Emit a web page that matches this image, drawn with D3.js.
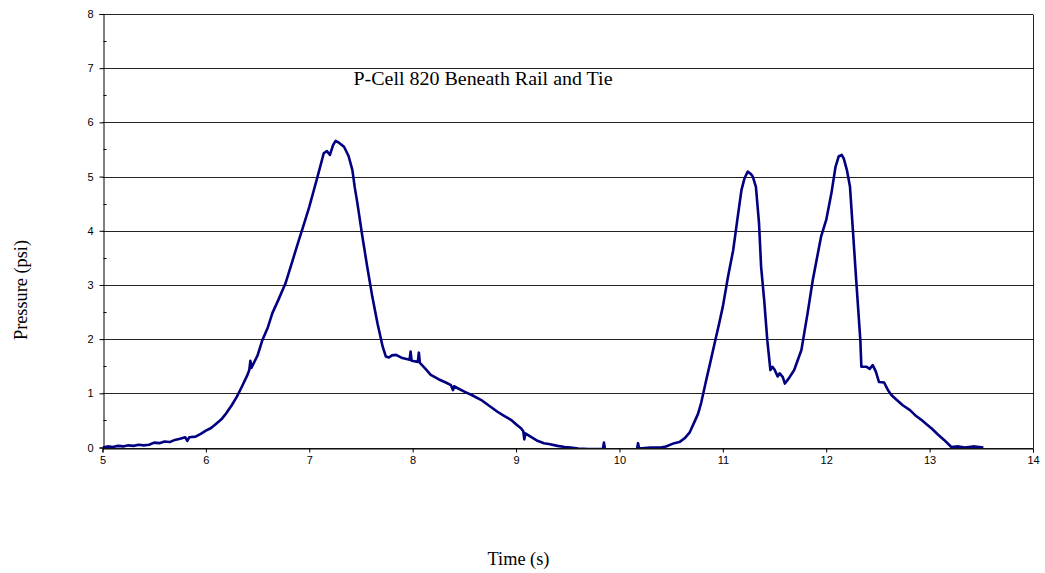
<!DOCTYPE html>
<html>
<head>
<meta charset="utf-8">
<script src="https://cdn.jsdelivr.net/npm/d3@7"></script>
<style>
  html, body { margin: 0; padding: 0; background: #fff; }
  svg { display: block; }
  .tick-label { font-family: Arial, "Liberation Sans", sans-serif; font-size: 11px; fill: #000; }
  .serif { font-family: "Times New Roman", "Liberation Serif", serif; fill: #000; }
</style>
</head>
<body>
<svg id="chart" width="1045" height="573"></svg>
<script>
/* P-Cell 820 pressure trace, redrawn from the reference picture. */

const timeS = [
  5.00, 5.05, 5.10, 5.15, 5.20, 5.25, 5.30, 5.35, 5.40, 5.45, 5.50, 5.55, 5.60, 5.65, 5.70, 5.75,
  5.80, 5.82, 5.84, 5.90, 5.95, 6.00, 6.05, 6.10, 6.15, 6.20, 6.25, 6.30, 6.35, 6.40, 6.42, 6.43,
  6.44, 6.50, 6.546, 6.60, 6.643, 6.70, 6.77, 6.83, 6.90, 6.95, 7.00, 7.04, 7.08, 7.14, 7.17, 7.20,
  7.23, 7.255, 7.29, 7.336, 7.38, 7.417, 7.44, 7.466, 7.514, 7.56, 7.61, 7.66, 7.71, 7.74, 7.77, 7.80,
  7.84, 7.90, 7.97, 7.98, 7.99, 8.05, 8.06, 8.07, 8.12, 8.175, 8.25, 8.32, 8.37, 8.39, 8.40, 8.45,
  8.50, 8.58, 8.66, 8.74, 8.82, 8.88, 8.95, 9.00, 9.05, 9.07, 9.08, 9.09, 9.14, 9.20, 9.27, 9.33,
  9.40, 9.47, 9.53, 9.60, 9.70, 9.84, 9.85, 9.86, 10.00, 10.17, 10.18, 10.19, 10.30, 10.40, 10.45, 10.53,
  10.58, 10.63, 10.68, 10.72, 10.76, 10.79, 10.84, 10.88, 10.92, 10.96, 11.00, 11.05, 11.10, 11.14, 11.18, 11.21,
  11.24, 11.27, 11.29, 11.32, 11.35, 11.37, 11.40, 11.43, 11.46, 11.48, 11.50, 11.53, 11.55, 11.58, 11.60, 11.64,
  11.69, 11.76, 11.82, 11.87, 11.95, 12.00, 12.05, 12.09, 12.12, 12.15, 12.17, 12.20, 12.23, 12.26, 12.29, 12.33,
  12.34, 12.39, 12.42, 12.45, 12.48, 12.51, 12.56, 12.60, 12.63, 12.68, 12.74, 12.81, 12.87, 12.92, 12.97, 13.02,
  13.08, 13.14, 13.21, 13.28, 13.34, 13.42, 13.52
];

const pressurePsi = [
  0.00, 0.02, 0.01, 0.03, 0.02, 0.04, 0.03, 0.05, 0.04, 0.05, 0.09, 0.08, 0.11, 0.10, 0.14, 0.16,
  0.19, 0.12, 0.19, 0.20, 0.25, 0.31, 0.36, 0.44, 0.52, 0.64, 0.78, 0.94, 1.13, 1.33, 1.43, 1.60,
  1.47, 1.70, 1.98, 2.22, 2.48, 2.72, 3.03, 3.40, 3.83, 4.13, 4.44, 4.72, 5.00, 5.43, 5.47, 5.40,
  5.58, 5.66, 5.62, 5.55, 5.38, 5.12, 4.80, 4.50, 3.89, 3.34, 2.78, 2.29, 1.86, 1.68, 1.66, 1.70,
  1.71, 1.65, 1.62, 1.77, 1.60, 1.58, 1.75, 1.56, 1.46, 1.34, 1.26, 1.20, 1.15, 1.06, 1.13, 1.08,
  1.03, 0.96, 0.88, 0.77, 0.66, 0.59, 0.51, 0.43, 0.35, 0.30, 0.15, 0.26, 0.20, 0.13, 0.08, 0.06,
  0.03, 0.01, 0.00, -0.02, -0.03, -0.03, 0.09, -0.03, -0.05, -0.03, 0.08, -0.02, 0.00, 0.00, 0.02, 0.08,
  0.10, 0.17, 0.28, 0.45, 0.62, 0.82, 1.25, 1.58, 1.92, 2.25, 2.60, 3.15, 3.64, 4.20, 4.75, 4.97,
  5.09, 5.05, 5.00, 4.81, 4.14, 3.34, 2.72, 1.98, 1.43, 1.49, 1.44, 1.31, 1.37, 1.30, 1.18, 1.28,
  1.43, 1.80, 2.48, 3.09, 3.89, 4.20, 4.69, 5.18, 5.37, 5.40, 5.33, 5.12, 4.81, 3.95, 3.09, 1.98,
  1.49, 1.49, 1.45, 1.52, 1.40, 1.21, 1.20, 1.05, 0.97, 0.88, 0.78, 0.69, 0.58, 0.51, 0.43, 0.35,
  0.24, 0.14, 0.01, 0.02, 0.00, 0.02, 0.00
];

const xTicks = [5, 6, 7, 8, 9, 10, 11, 12, 13, 14];
const yTicks = [0, 1, 2, 3, 4, 5, 6, 7, 8];
const yMinorTicks = [0.5, 1.5, 2.5, 3.5, 4.5, 5.5, 6.5, 7.5];

const chartTitle = "P-Cell 820 Beneath Rail and Tie";
const xTitle = "Time (s)";
const yTitle = "Pressure (psi)";

const svg = d3.select("#chart");
const plot = { left: 102.5, right: 1033, top: 14, bottom: 447.5 };

const x = d3.scaleLinear().domain([5, 14]).range([plot.left, plot.right]);
const y = d3.scaleLinear().domain([0, 8]).range([plot.bottom, plot.top]);

// horizontal gridlines
svg.append("g")
  .selectAll("line")
  .data(yTicks)
  .join("line")
  .attr("x1", plot.left)
  .attr("x2", plot.right)
  .attr("y1", (d) => Math.round(y(d)) + 0.5)
  .attr("y2", (d) => Math.round(y(d)) + 0.5)
  .attr("stroke", "#222")
  .attr("stroke-width", 1);

// right border
svg.append("line")
  .attr("x1", Math.round(plot.right) + 0.5)
  .attr("x2", Math.round(plot.right) + 0.5)
  .attr("y1", Math.round(plot.top) + 0.5)
  .attr("y2", Math.round(plot.bottom) + 0.5)
  .attr("stroke", "#222");

// y axis
const yAxis = svg.append("g")
  .attr("transform", `translate(${Math.round(plot.left) + 0.5},0)`)
  .call(d3.axisLeft(y).tickValues(yTicks).tickSize(4).tickPadding(6).tickFormat(d3.format("d")));
yAxis.select(".domain").attr("stroke", "#000");
yAxis.selectAll(".tick line").attr("stroke", "#000");
yAxis.selectAll(".tick text").attr("class", "tick-label").attr("font-size", null).attr("font-family", null);

// minor ticks on y axis (inside)
svg.append("g")
  .selectAll("line")
  .data(yMinorTicks)
  .join("line")
  .attr("x1", Math.round(plot.left) + 0.5)
  .attr("x2", Math.round(plot.left) + 3.5)
  .attr("y1", (d) => Math.round(y(d)) + 0.5)
  .attr("y2", (d) => Math.round(y(d)) + 0.5)
  .attr("stroke", "#000");

// x axis
const xAxis = svg.append("g")
  .attr("transform", `translate(0,${Math.round(plot.bottom) + 0.5})`)
  .call(d3.axisBottom(x).tickValues(xTicks).tickSize(4).tickPadding(4).tickFormat(d3.format("d")));
xAxis.select(".domain").attr("stroke", "#000");
xAxis.selectAll(".tick line").attr("stroke", "#000");
xAxis.selectAll(".tick text").attr("class", "tick-label").attr("font-size", null).attr("font-family", null);

// clip the trace to the plot area
svg.append("clipPath")
  .attr("id", "plot-clip")
  .append("rect")
  .attr("x", plot.left)
  .attr("y", plot.top)
  .attr("width", plot.right - plot.left)
  .attr("height", plot.bottom - plot.top + 0.5);

const points = timeS.map((t, i) => [t, pressurePsi[i]]);
const line = d3.line()
  .x((d) => x(d[0]))
  .y((d) => y(d[1]));

svg.append("path")
  .datum(points)
  .attr("clip-path", "url(#plot-clip)")
  .attr("fill", "none")
  .attr("stroke", "#000080")
  .attr("stroke-width", 2.6)
  .attr("stroke-linejoin", "round")
  .attr("d", line);

// in-plot title
svg.append("text")
  .attr("class", "serif")
  .attr("x", 483)
  .attr("y", 85)
  .attr("text-anchor", "middle")
  .attr("font-size", 18.5)
  .attr("textLength", 259)
  .attr("lengthAdjust", "spacingAndGlyphs")
  .text(chartTitle);

// axis titles
svg.append("text")
  .attr("class", "serif")
  .attr("x", 518.5)
  .attr("y", 565)
  .attr("text-anchor", "middle")
  .attr("font-size", 18.3)
  .text(xTitle);

svg.append("text")
  .attr("class", "serif")
  .attr("transform", "translate(27,290) rotate(-90)")
  .attr("text-anchor", "middle")
  .attr("font-size", 18.3)
  .text(yTitle);
</script>
</body>
</html>
